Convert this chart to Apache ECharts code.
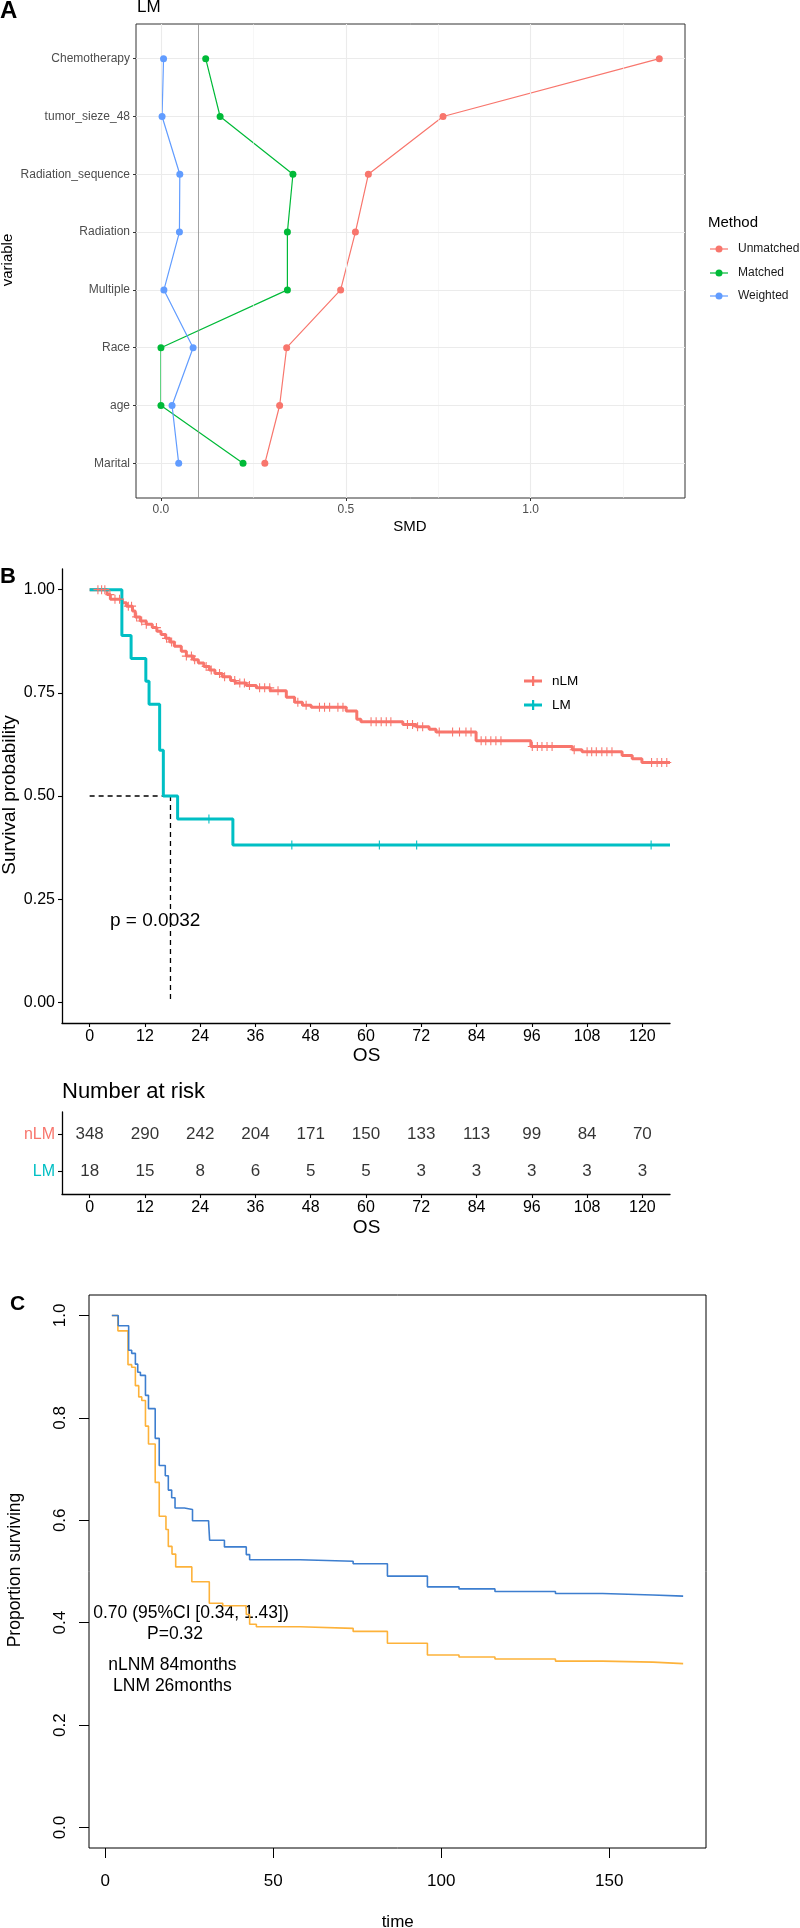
<!DOCTYPE html>
<html><head><meta charset="utf-8">
<script src="https://cdn.jsdelivr.net/npm/echarts@6/dist/echarts.min.js"></script>
<style>html,body{margin:0;padding:0;background:#fff}#c{width:800px;height:1928px}</style>
</head><body><div id="c"></div>
<script>
// ---------- Panel A data ----------
const varNames = ['Marital','age','Race','Multiple','Radiation','Radiation_sequence','tumor_sieze_48','Chemotherapy'];
const smdUnmatched = [0.281, 0.321, 0.340, 0.486, 0.526, 0.561, 0.763, 1.348];
const smdMatched   = [0.222, 0.000, 0.000, 0.342, 0.342, 0.357, 0.160, 0.121];
const smdWeighted  = [0.048, 0.030, 0.087, 0.008, 0.050, 0.051, 0.003, 0.007];
const smdTicks = [0, 0.5, 1.0];
const smdMinor = [0.25, 0.75, 1.25];
const smdThreshold = 0.1;

// ---------- Panel B data ----------
const nlmT = [0, 3.8, 4.5, 7.1, 8.0, 9.3, 9.9, 11.0, 12.3, 13.6, 14.6, 15.5, 16.5, 17.4, 18.4, 19.9, 21.0, 22.5, 23.6, 24.8, 26.0, 27.2, 28.8, 30.6, 31.6, 34.0, 36.2, 39.2, 42.7, 44.5, 46.2, 48.1, 55.7, 58.0, 58.9, 68.0, 70.9, 73.7, 75.2, 83.9, 95.8, 104.8, 106.9, 115.6, 117.8, 119.9, 126];
const nlmS = [1.0, 0.988, 0.977, 0.968, 0.960, 0.948, 0.934, 0.924, 0.916, 0.908, 0.899, 0.891, 0.882, 0.873, 0.863, 0.851, 0.839, 0.830, 0.822, 0.814, 0.805, 0.797, 0.789, 0.780, 0.774, 0.768, 0.762, 0.755, 0.739, 0.727, 0.720, 0.715, 0.706, 0.686, 0.680, 0.673, 0.668, 0.662, 0.655, 0.634, 0.620, 0.612, 0.607, 0.598, 0.590, 0.581, 0.581];
const nlmCensor = [1.8, 2.6, 3.3, 4.4, 5.5, 6.5, 8.4, 9.1, 10.2, 11.3, 12.3, 14.5, 16.7, 17.8, 21.0, 22.1, 22.8, 25.3, 26.4, 28.2, 29.3, 31.5, 32.6, 33.6, 34.7, 36.9, 38.0, 39.1, 40.9, 45.2, 47.0, 49.9, 51.0, 52.1, 53.9, 55.0, 61.1, 62.2, 63.3, 64.4, 65.4, 69.0, 70.1, 71.2, 72.3, 75.9, 78.8, 80.3, 81.7, 82.8, 85.0, 86.0, 87.1, 88.2, 89.3, 96.1, 97.2, 98.2, 99.3, 100.4, 105.2, 108.0, 109.0, 110.0, 111.2, 112.3, 113.4, 122.0, 123.2, 124.2, 125.3];
const lmT = [0, 7.0, 9.0, 12.2, 12.9, 15.2, 16.0, 19.1, 31.1, 126];
const lmS = [1.0, 0.889, 0.833, 0.778, 0.722, 0.611, 0.5, 0.444, 0.381, 0.381];
const lmCensor = [25.9, 43.9, 62.9, 71.0, 121.9];
const medianLM = 17.55;
const osTicks = [0, 12, 24, 36, 48, 60, 72, 84, 96, 108, 120];
const survTicks = [0, 0.25, 0.5, 0.75, 1.0];

// ---------- Risk table ----------
const riskNLM = [348, 290, 242, 204, 171, 150, 133, 113, 99, 84, 70];
const riskLM  = [18, 15, 8, 6, 5, 5, 3, 3, 3, 3, 3];

// ---------- Panel C data ----------
const cBlueT = [2.0, 3.9, 7.0, 7.9, 9.0, 9.7, 10.5, 12.0, 12.9, 14.9, 16.1, 17.9, 18.8, 19.8, 20.8, 23.6, 26.0, 30.8, 31.1, 35.5, 42.0, 43.0, 58.0, 73.8, 84.0, 95.9, 105.3, 116.0, 134.0, 148.0, 163.0, 172.0];
const cBlueS = [1.0, 0.980, 0.932, 0.926, 0.905, 0.889, 0.883, 0.844, 0.818, 0.760, 0.707, 0.687, 0.659, 0.644, 0.624, 0.621, 0.599, 0.595, 0.561, 0.548, 0.533, 0.523, 0.520, 0.515, 0.491, 0.470, 0.466, 0.461, 0.457, 0.454, 0.452, 0.452];
const cOrangeT = [2.0, 3.8, 6.8, 7.9, 9.0, 10.0, 10.9, 12.0, 12.9, 14.9, 16.1, 18.1, 18.8, 19.9, 21.0, 25.8, 31.0, 35.0, 42.0, 43.0, 45.0, 58.0, 73.8, 84.0, 95.9, 105.3, 116.0, 134.0, 148.0, 163.0, 172.0];
const cOrangeS = [1.0, 0.970, 0.904, 0.899, 0.863, 0.841, 0.834, 0.784, 0.749, 0.674, 0.608, 0.582, 0.549, 0.534, 0.509, 0.480, 0.438, 0.433, 0.416, 0.397, 0.392, 0.389, 0.383, 0.360, 0.337, 0.333, 0.329, 0.325, 0.323, 0.320, 0.320];
const cTimeTicks = [0, 50, 100, 150];
const cPropTicks = [0, 0.2, 0.4, 0.6, 0.8, 1.0];

// ---------- helpers ----------
const FONT = 'Liberation Sans, Arial, Helvetica, sans-serif';
const pairs = (T, S) => T.map((t, i) => [t, S[i]]);
const stepAt = (T, S, t) => { let v = S[0]; for (let i = 0; i < T.length; i++) { if (T[i] <= t) v = S[i]; } return v; };
const PLUS = 'path://M-0.12,-1H0.12V-0.12H1V0.12H0.12V1H-0.12V0.12H-1V-0.12H-0.12Z';
const DOT = 'path://M0,-1A1,1,0,1,1,0,1A1,1,0,1,1,0,-1Z';
const COL = { un: '#F8766D', ma: '#00BA38', we: '#619CFF', nlm: '#F8766D', lm: '#00BFC4', cb: '#3D7ECF', co: '#FDB23A' };

function txt(text, x, y, size, o) {
  o = o || {};
  return {
    type: 'text', x: x, y: y, rotation: o.rot || 0, silent: true,
    style: {
      text: text, fill: o.color || '#000', fontSize: size, fontFamily: FONT,
      fontWeight: o.bold ? 'bold' : 'normal',
      textAlign: o.align || 'left', textVerticalAlign: 'middle',
      align: o.align || 'left', verticalAlign: 'middle'
    }
  };
}
function hline(x1, x2, y, color, w) {
  return { type: 'line', silent: true, shape: { x1: x1, y1: y, x2: x2, y2: y }, style: { stroke: color, lineWidth: w } };
}

const chart = echarts.init(document.getElementById('c'), null, { renderer: 'canvas' });

const gridLineData = []
  .concat(smdTicks.map(v => ({ xAxis: v, lineStyle: { color: '#EBEBEB', width: 1.1, type: 'solid' } })))
  .concat(smdMinor.map(v => ({ xAxis: v, lineStyle: { color: '#F2F2F2', width: 0.6, type: 'solid' } })))
  .concat(varNames.map((n, i) => ({ yAxis: i + 1, lineStyle: { color: '#EBEBEB', width: 1.1, type: 'solid' } })))
  .concat([{ xAxis: smdThreshold, lineStyle: { color: '#8C8C8C', width: 0.8, type: 'solid' } }]);

const axisFontA = { fontFamily: FONT, fontSize: 12, color: '#4D4D4D' };
const noZero = (o) => Object.assign({ onZero: false }, o);
const dotSeries = (vals, color) => ({
  type: 'scatter', xAxisIndex: 0, yAxisIndex: 0, z: 5, silent: true, symbol: DOT, symbolSize: 7,
  data: vals.map((v, i) => [v, i + 1]),
  itemStyle: { color: color, opacity: 1, borderWidth: 0, borderColor: color }
});

const option = {
  animation: false,
  backgroundColor: '#fff',
  grid: [
    { left: 136, top: 24, width: 549, height: 474, show: true, borderColor: '#333333', borderWidth: 1, backgroundColor: 'transparent' },
    { left: 62, top: 569, width: 608, height: 454 },
    { left: 62, top: 1112, width: 608, height: 82 },
    { left: 89, top: 1295, width: 617, height: 553, show: true, borderColor: '#000', borderWidth: 1, backgroundColor: 'transparent' }
  ],
  xAxis: [
    { gridIndex: 0, type: 'value', min: -0.0675, max: 1.4175,
      axisLine: noZero({ show: false }), splitLine: { show: false },
      axisTick: { show: true, customValues: smdTicks, length: 3, lineStyle: { color: '#333', width: 1 } },
      axisLabel: Object.assign({ customValues: smdTicks, margin: 6, formatter: v => Number(v).toFixed(1) }, axisFontA) },
    { gridIndex: 1, type: 'value', min: -6, max: 126,
      axisLine: noZero({ show: true, lineStyle: { color: '#000', width: 1.3 } }), splitLine: { show: false },
      axisTick: { show: true, customValues: osTicks, length: 4, lineStyle: { color: '#000', width: 1.1 } },
      axisLabel: { customValues: osTicks, margin: 6, fontFamily: FONT, fontSize: 16, color: '#000' } },
    { gridIndex: 2, type: 'value', min: -6, max: 126,
      axisLine: noZero({ show: true, lineStyle: { color: '#000', width: 1.3 } }), splitLine: { show: false },
      axisTick: { show: true, customValues: osTicks, length: 4, lineStyle: { color: '#000', width: 1.1 } },
      axisLabel: { customValues: osTicks, margin: 6, fontFamily: FONT, fontSize: 16, color: '#000' } },
    { gridIndex: 3, type: 'value', min: -4.8, max: 178.8,
      axisLine: noZero({ show: false }), splitLine: { show: false },
      axisTick: { show: true, customValues: cTimeTicks, length: 10, lineStyle: { color: '#000', width: 1 } },
      axisLabel: { customValues: cTimeTicks, margin: 25, fontFamily: FONT, fontSize: 17, color: '#000' } }
  ],
  yAxis: [
    { gridIndex: 0, type: 'value', min: 0.4, max: 8.6,
      axisLine: noZero({ show: false }), splitLine: { show: false },
      axisTick: { show: true, customValues: [1, 2, 3, 4, 5, 6, 7, 8], length: 3, lineStyle: { color: '#333', width: 1 } },
      axisLabel: Object.assign({ customValues: [1, 2, 3, 4, 5, 6, 7, 8], margin: 6, formatter: v => varNames[Math.round(v) - 1] }, axisFontA) },
    { gridIndex: 1, type: 'value', min: -0.05, max: 1.05,
      axisLine: noZero({ show: true, lineStyle: { color: '#000', width: 1.3 } }), splitLine: { show: false },
      axisTick: { show: true, customValues: survTicks, length: 4, lineStyle: { color: '#000', width: 1.1 } },
      axisLabel: { customValues: survTicks, margin: 7, fontFamily: FONT, fontSize: 16, color: '#000', formatter: v => Number(v).toFixed(2) } },
    { gridIndex: 2, type: 'value', min: 0.4, max: 2.6,
      axisLine: noZero({ show: true, lineStyle: { color: '#000', width: 1.3 } }), splitLine: { show: false },
      axisTick: { show: true, customValues: [1, 2], length: 4, lineStyle: { color: '#000', width: 1.1 } },
      axisLabel: { customValues: [1, 2], margin: 7, fontFamily: FONT, fontSize: 16,
        formatter: v => (Math.round(v) === 2 ? '{a|nLM}' : '{b|LM}'),
        rich: { a: { color: COL.nlm, fontSize: 16, fontFamily: FONT }, b: { color: COL.lm, fontSize: 16, fontFamily: FONT } } } },
    { gridIndex: 3, type: 'value', min: -0.04, max: 1.04,
      axisLine: noZero({ show: false }), splitLine: { show: false },
      axisTick: { show: true, customValues: cPropTicks, length: 10, lineStyle: { color: '#000', width: 1 } },
      axisLabel: { customValues: cPropTicks, margin: 20, rotate: 90, fontFamily: FONT, fontSize: 17, color: '#000', formatter: v => Number(v).toFixed(1) } }
  ],
  series: [
    // Panel A gridlines
    { type: 'line', xAxisIndex: 0, yAxisIndex: 0, data: [], z: 1, silent: true,
      markLine: { silent: true, symbol: ['none', 'none'], label: { show: false }, animation: false, data: gridLineData } },
    { name: 'Unmatched', type: 'line', xAxisIndex: 0, yAxisIndex: 0, z: 3, silent: true,
      data: smdUnmatched.map((v, i) => [v, i + 1]), symbol: 'none', lineStyle: { color: COL.un, width: 1.2 } },
    { name: 'Matched', type: 'line', xAxisIndex: 0, yAxisIndex: 0, z: 3, silent: true,
      data: smdMatched.map((v, i) => [v, i + 1]), symbol: 'none', lineStyle: { color: COL.ma, width: 1.2 } },
    { name: 'Weighted', type: 'line', xAxisIndex: 0, yAxisIndex: 0, z: 3, silent: true,
      data: smdWeighted.map((v, i) => [v, i + 1]), symbol: 'none', lineStyle: { color: COL.we, width: 1.2 } },
    dotSeries(smdUnmatched, COL.un),
    dotSeries(smdMatched, COL.ma),
    dotSeries(smdWeighted, COL.we),

    // Panel B
    { type: 'line', xAxisIndex: 1, yAxisIndex: 1, silent: true, data: [[0, 0.5], [medianLM, 0.5]], symbol: 'none',
      lineStyle: { color: '#000', width: 1.3, type: [5, 4] }, z: 2 },
    { type: 'line', xAxisIndex: 1, yAxisIndex: 1, silent: true, data: [[medianLM, 0.5], [medianLM, 0]], symbol: 'none',
      lineStyle: { color: '#000', width: 1.3, type: [5, 4] }, z: 2 },
    { name: 'nLM', type: 'line', xAxisIndex: 1, yAxisIndex: 1, silent: true, step: 'end', symbol: 'none',
      data: pairs(nlmT, nlmS), lineStyle: { color: COL.nlm, width: 3 }, z: 3 },
    { type: 'scatter', xAxisIndex: 1, yAxisIndex: 1, silent: true, symbol: PLUS, symbolSize: 9,
      data: nlmCensor.map(t => [t, stepAt(nlmT, nlmS, t)]), itemStyle: { color: COL.nlm, opacity: 1 }, z: 4 },
    { name: 'LM', type: 'line', xAxisIndex: 1, yAxisIndex: 1, silent: true, step: 'end', symbol: 'none',
      data: pairs(lmT, lmS), lineStyle: { color: COL.lm, width: 3 }, z: 3 },
    { type: 'scatter', xAxisIndex: 1, yAxisIndex: 1, silent: true, symbol: PLUS, symbolSize: 9,
      data: lmCensor.map(t => [t, stepAt(lmT, lmS, t)]), itemStyle: { color: COL.lm, opacity: 1 }, z: 4 },

    // Risk table
    { type: 'scatter', xAxisIndex: 2, yAxisIndex: 2, silent: true, symbolSize: 1, itemStyle: { color: 'rgba(0,0,0,0)' },
      data: osTicks.map((t, i) => [t, 2, riskNLM[i]]),
      label: { show: true, position: 'inside', formatter: p => String(p.value[2]), fontFamily: FONT, fontSize: 17, color: '#000' } },
    { type: 'scatter', xAxisIndex: 2, yAxisIndex: 2, silent: true, symbolSize: 1, itemStyle: { color: 'rgba(0,0,0,0)' },
      data: osTicks.map((t, i) => [t, 1, riskLM[i]]),
      label: { show: true, position: 'inside', formatter: p => String(p.value[2]), fontFamily: FONT, fontSize: 17, color: '#000' } },

    // Panel C
    { type: 'line', xAxisIndex: 3, yAxisIndex: 3, silent: true, step: 'end', symbol: 'none',
      data: pairs(cOrangeT, cOrangeS), lineStyle: { color: COL.co, width: 1.6 }, z: 3 },
    { type: 'line', xAxisIndex: 3, yAxisIndex: 3, silent: true, step: 'end', symbol: 'none',
      data: pairs(cBlueT, cBlueS), lineStyle: { color: COL.cb, width: 1.6 }, z: 3 }
  ],
  graphic: [
    // Panel A texts
    txt('A', 0, 11, 24, { bold: true }),
    txt('LM', 137, 7, 17),
    txt('SMD', 410, 527, 15, { align: 'center' }),
    txt('variable', 8, 260, 15, { align: 'center', rot: Math.PI / 2 }),
    txt('Method', 708, 223, 15),
    hline(710, 728, 249, COL.un, 1.2), { type: 'circle', silent: true, shape: { cx: 719, cy: 249, r: 3.5 }, style: { fill: COL.un } },
    txt('Unmatched', 738, 249, 12, { color: '#1a1a1a' }),
    hline(710, 728, 273, COL.ma, 1.2), { type: 'circle', silent: true, shape: { cx: 719, cy: 273, r: 3.5 }, style: { fill: COL.ma } },
    txt('Matched', 738, 273, 12, { color: '#1a1a1a' }),
    hline(710, 728, 296, COL.we, 1.2), { type: 'circle', silent: true, shape: { cx: 719, cy: 296, r: 3.5 }, style: { fill: COL.we } },
    txt('Weighted', 738, 296, 12, { color: '#1a1a1a' }),

    // Panel B texts
    txt('B', 0, 577, 22, { bold: true }),
    txt('Survival probability', 10, 795, 19, { align: 'center', rot: Math.PI / 2 }),
    txt('OS', 366.6, 1056, 19, { align: 'center' }),
    txt('p = 0.0032', 110, 921, 19),
    hline(524, 542, 681, COL.nlm, 3),
    { type: 'rect', silent: true, shape: { x: 532, y: 676, width: 2.2, height: 10 }, style: { fill: COL.nlm } },
    txt('nLM', 552, 681, 13.5),
    hline(524, 542, 705, COL.lm, 3),
    { type: 'rect', silent: true, shape: { x: 532, y: 700, width: 2.2, height: 10 }, style: { fill: COL.lm } },
    txt('LM', 552, 705, 13.5),

    // Risk table texts
    txt('Number at risk', 62, 1092, 22),
    txt('OS', 366.6, 1228, 19, { align: 'center' }),

    // Panel C texts
    txt('C', 10, 1304, 21, { bold: true }),
    txt('Proportion surviving', 15, 1570, 17.5, { align: 'center', rot: Math.PI / 2 }),
    txt('time', 397.7, 1922, 17, { align: 'center' }),
    txt('0.70 (95%CI [0.34, 1.43])', 191, 1613, 17.5, { align: 'center' }),
    txt('P=0.32', 175, 1634, 17.5, { align: 'center' }),
    txt('nLNM 84months', 172.4, 1665, 17.5, { align: 'center' }),
    txt('LNM 26months', 172.4, 1686, 17.5, { align: 'center' })
  ]
};
chart.setOption(option);
</script>
</body></html>
